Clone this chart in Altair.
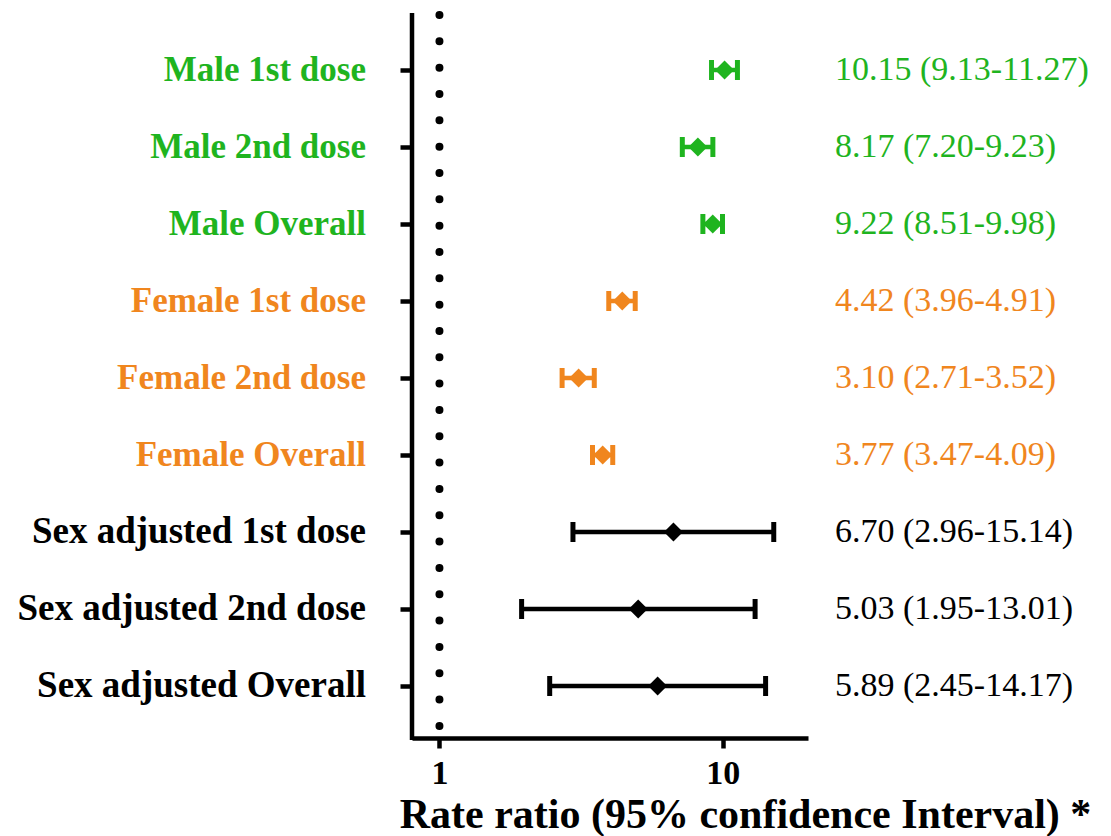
import altair as alt
import pandas as pd

labels = ["Male 1st dose", "Male 2nd dose", "Male Overall",
          "Female 1st dose", "Female 2nd dose", "Female Overall",
          "Sex adjusted 1st dose", "Sex adjusted 2nd dose", "Sex adjusted Overall"]
groups = ["Male", "Male", "Male", "Female", "Female", "Female",
          "Adjusted", "Adjusted", "Adjusted"]
est = [10.15, 8.17, 9.22, 4.42, 3.10, 3.77, 6.70, 5.03, 5.89]
lo = [9.13, 7.20, 8.51, 3.96, 2.71, 3.47, 2.96, 1.95, 2.45]
hi = [11.27, 9.23, 9.98, 4.91, 3.52, 4.09, 15.14, 13.01, 14.17]
x_ticks = [1, 10]
ref_value = [1]

df = pd.DataFrame({"label": labels, "group": groups, "est": est, "lo": lo, "hi": hi})
df["ann"] = [f"{e:.2f} ({l:.2f}-{h:.2f})" for e, l, h in zip(est, lo, hi)]
ref_df = pd.DataFrame({"x": ref_value})

W, H = 396, 725
FONT = "Liberation Serif"

color = alt.Color("group:N", legend=None,
                  scale=alt.Scale(domain=["Male", "Female", "Adjusted"],
                                  range=["#1fb41f", "#f0861e", "#000000"]))
xscale = alt.Scale(type="log", domain=[0.8, 20])
yenc = alt.Y("label:N", sort=labels,
             scale=alt.Scale(type="point", range=[57, 673], padding=0),
             axis=alt.Axis(labels=False, title=None, ticks=True, tickSize=12,
                           tickWidth=4.5, tickColor="black", domain=False,
                           grid=False))

base = alt.Chart(df)

refline = alt.Chart(ref_df).mark_rule(
    strokeDash=[0, 26.33], strokeCap="round", strokeWidth=8, color="black"
).encode(
    x=alt.X("x:Q", scale=xscale,
            axis=alt.Axis(values=x_ticks, format="d", labelFont=FONT,
                          labelFontWeight="bold", labelFontSize=34, labelColor="black",
                          labelPadding=8, tickSize=10, tickWidth=4.5, tickColor="black",
                          domainWidth=4.5, domainColor="black", grid=False,
                          title="Rate ratio (95% confidence Interval) *",
                          titleFont=FONT, titleFontWeight="bold", titleFontSize=42,
                          titleColor="black", titleX=333, titleY=89,
                          titleAlign="center", titleBaseline="alphabetic")),
    y=alt.value(2), y2=alt.value(H)
)

yline = alt.Chart(ref_df).mark_rule(strokeWidth=4.5, color="black").encode(
    x=alt.value(0), y=alt.value(0), y2=alt.value(H + 2))

bars = base.mark_rule(strokeWidth=4.5).encode(
    x=alt.X("lo:Q", scale=xscale), x2="hi:Q", y=yenc, color=color)
cap_lo = base.mark_tick(thickness=5, size=20, opacity=1).encode(
    x=alt.X("lo:Q", scale=xscale), y=yenc, color=color)
cap_hi = base.mark_tick(thickness=5, size=20, opacity=1).encode(
    x=alt.X("hi:Q", scale=xscale), y=yenc, color=color)
pts = base.mark_point(shape="diamond", filled=True, size=360, opacity=1).encode(
    x=alt.X("est:Q", scale=xscale), y=yenc, color=color)

left_text = base.mark_text(align="right", baseline="middle", font=FONT,
                           fontWeight="bold").encode(
    x=alt.value(-46), y=yenc, text="label:N", color=color,
    size=alt.condition(alt.datum.group == "Adjusted", alt.value(37), alt.value(35)))
right_text = base.mark_text(align="left", baseline="middle", font=FONT,
                            fontSize=34).encode(
    x=alt.value(423), y=yenc, text="ann:N", color=color)

chart = alt.layer(refline, yline, bars, cap_lo, cap_hi, pts, left_text, right_text).properties(
    width=W, height=H,
    autosize=alt.AutoSizeParams(type="none"),
    padding={"left": 404, "top": 5, "right": 290, "bottom": 98},
).configure_view(stroke=None)

chart.save("out.html", embed_options={"renderer": "svg", "actions": False})
